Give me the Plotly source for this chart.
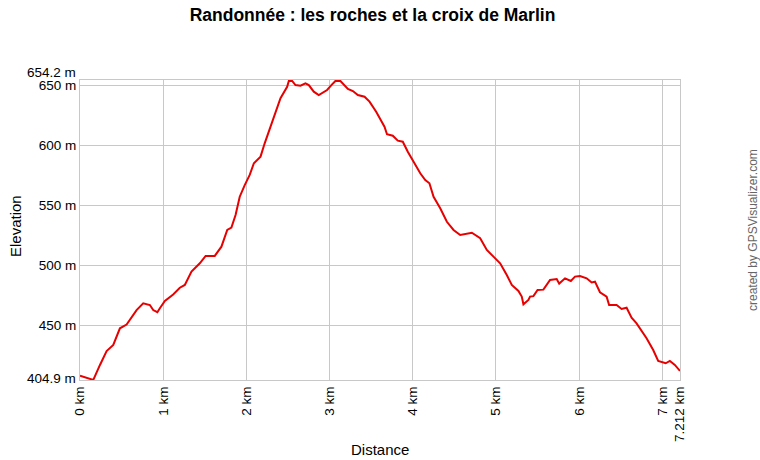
import plotly.graph_objects as go

distance_km = [0.0, 0.08, 0.16, 0.24, 0.32, 0.40, 0.48, 0.56, 0.60, 0.68, 0.76, 0.84, 0.88, 0.93, 0.96,
               1.02, 1.12, 1.20, 1.26, 1.34, 1.44, 1.51, 1.62, 1.70, 1.77, 1.82, 1.87, 1.92, 1.98,
               2.04, 2.09, 2.17, 2.22, 2.27, 2.33, 2.41, 2.49, 2.51, 2.55, 2.59, 2.65, 2.71, 2.75,
               2.81, 2.87, 2.97, 3.03, 3.07, 3.13, 3.22, 3.28, 3.34, 3.42, 3.48, 3.56, 3.66, 3.69,
               3.76, 3.82, 3.88, 3.94, 4.00, 4.09, 4.15, 4.20, 4.25, 4.33, 4.41, 4.49, 4.57, 4.65,
               4.71, 4.81, 4.89, 4.97, 5.05, 5.13, 5.19, 5.27, 5.31, 5.33, 5.39, 5.41, 5.45, 5.50,
               5.57, 5.65, 5.73, 5.76, 5.83, 5.90, 5.95, 6.01, 6.09, 6.15, 6.19, 6.25, 6.33, 6.36,
               6.45, 6.51, 6.57, 6.63, 6.69, 6.81, 6.89, 6.95, 7.04, 7.09, 7.15, 7.212]
elevation_m = [408.4, 407.0, 405.0, 417.4, 429.0, 434.0, 447.9, 451.0, 454.8, 463.0, 468.6, 467.2, 463.0, 461.2, 464.5,
               470.6, 476.0, 481.6, 483.9, 495.0, 501.9, 508.0, 508.0, 515.7, 529.6, 531.5, 542.0, 557.2, 566.9,
               575.3, 585.0, 590.5, 601.6, 611.2, 622.4, 639.0, 648.6, 653.4, 653.4, 650.0, 649.5, 651.5, 650.0,
               644.5, 641.7, 645.9, 650.6, 653.4, 653.4, 646.7, 645.0, 641.7, 640.3, 636.2, 627.9, 615.4, 609.1,
               607.9, 603.8, 602.9, 594.6, 587.7, 576.7, 571.1, 568.4, 557.2, 547.6, 536.4, 529.6, 525.4, 526.8,
               527.3, 522.7, 513.0, 507.4, 501.9, 492.2, 483.9, 478.9, 474.2, 467.8, 471.4, 474.2, 474.6, 479.7,
               480.0, 488.0, 488.8, 485.0, 489.4, 487.2, 490.8, 491.3, 489.4, 486.0, 486.6, 477.8, 474.2, 467.2,
               467.2, 463.9, 465.0, 456.7, 452.0, 439.6, 429.8, 420.7, 418.8, 420.7, 417.4, 412.4, 410.5]

x_tickvals = [0, 1, 2, 3, 4, 5, 6, 7, 7.212]
x_ticktext = ["0 km", "1 km", "2 km", "3 km", "4 km", "5 km", "6 km", "7 km", "7.212 km"]
y_tickvals = [450, 500, 550, 600, 650]
y_ticktext = ["450 m", "500 m", "550 m", "600 m", "650 m"]
y_min, y_max = 404.9, 654.2
x_max = 7.212

FONT = "Liberation Sans, Arial, sans-serif"

fig = go.Figure()
fig.add_trace(go.Scatter(x=distance_km, y=elevation_m, mode="lines",
                         line=dict(color="#e60000", width=2), hoverinfo="skip"))

fig.update_layout(
    width=760, height=460,
    margin=dict(l=80, r=80, t=80, b=80, autoexpand=False),
    paper_bgcolor="white", plot_bgcolor="white",
    showlegend=False,
    font=dict(family=FONT, color="black", size=13),
    title=dict(text="<b>Randonnée : les roches et la croix de Marlin</b>",
               xref="container", x=372.5 / 760, xanchor="center",
               yref="container", y=1 - 15 / 460, yanchor="middle",
               font=dict(size=17.5, family=FONT, color="black")),
    xaxis=dict(range=[0, x_max], tickvals=x_tickvals, ticktext=x_ticktext,
               tickangle=-90, showgrid=True, gridcolor="#c8c8c8", gridwidth=1,
               showline=True, linecolor="#c8c8c8", mirror=True, zeroline=False,
               ticks="", ticklen=0, tickfont=dict(size=13.5), automargin=False),
    yaxis=dict(range=[y_min, y_max], tickvals=y_tickvals, ticktext=y_ticktext,
               showgrid=True, gridcolor="#c8c8c8", gridwidth=1,
               showline=True, linecolor="#c8c8c8", mirror=True, zeroline=False,
               ticks="", ticklen=0, tickfont=dict(size=13.5), automargin=False),
)

fig.add_annotation(text="654.2 m", xref="paper", yref="y", x=0, y=y_max, xanchor="right",
                   yanchor="middle", xshift=-2, yshift=8, showarrow=False, font=dict(size=13.5))
fig.add_annotation(text="404.9 m", xref="paper", yref="y", x=0, y=y_min, xanchor="right",
                   yanchor="middle", xshift=-2, yshift=2, showarrow=False, font=dict(size=13.5))
fig.add_annotation(text="Distance", xref="paper", yref="paper", x=0.5, y=0,
                   xanchor="center", yanchor="middle", yshift=-69, showarrow=False,
                   font=dict(size=15))
fig.add_annotation(text="Elevation", xref="paper", yref="paper", x=0, y=0.5,
                   xanchor="center", yanchor="middle", xshift=-65, yshift=4, textangle=-90,
                   showarrow=False, font=dict(size=15))
fig.add_annotation(text="created by GPSVisualizer.com", xref="paper", yref="paper",
                   x=1, y=0.5, xanchor="center", yanchor="middle", xshift=73, yshift=0,
                   textangle=-90, showarrow=False, font=dict(size=12, color="#666666"))

fig.write_html("out.html", config={"displayModeBar": False},
               post_script="document.body.style.margin='0';document.body.style.overflow='hidden';")
